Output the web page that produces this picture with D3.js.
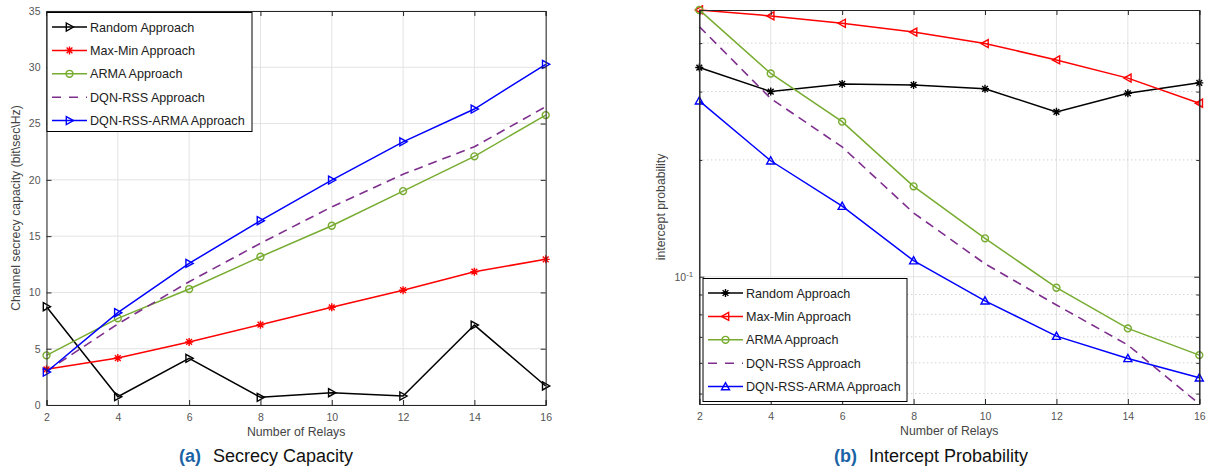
<!DOCTYPE html>
<html>
<head>
<meta charset="utf-8">
<script src="https://cdn.jsdelivr.net/npm/d3@7"></script>
<style>
  body { margin: 0; background: #fff; }
  svg { font-family: "Liberation Sans", Arial, sans-serif; }
</style>
</head>
<body>
<div id="chart"></div>
<script>
// Relay counts shared by both panels
var relays = [2, 4, 6, 8, 10, 12, 14, 16];

// (a) secrecy capacity, bit/sec/Hz
var capRandom   = [8.73, 0.74, 4.15, 0.68, 1.09, 0.80, 7.10, 1.69];
var capMaxMin   = [3.17, 4.17, 5.60, 7.13, 8.68, 10.20, 11.84, 12.94];
var capArma     = [4.41, 7.70, 10.30, 13.17, 15.92, 19.00, 22.09, 25.75];
var capDqn      = [3.00, 7.20, 10.95, 14.36, 17.60, 20.50, 22.94, 26.50];
var capDqnArma  = [2.93, 8.20, 12.58, 16.37, 19.98, 23.38, 26.29, 30.26];

// (b) intercept probability
var ipRandom    = [0.346, 0.300, 0.314, 0.312, 0.305, 0.266, 0.297, 0.316];
var ipMaxMin    = [0.487, 0.470, 0.450, 0.427, 0.399, 0.362, 0.325, 0.280];
var ipArma      = [0.487, 0.334, 0.251, 0.171, 0.1256, 0.0937, 0.0736, 0.0628];
var ipDqn       = [0.441, 0.288, 0.216, 0.146, 0.108, 0.0846, 0.0667, 0.0470];
var ipDqnArma   = [0.284, 0.199, 0.152, 0.110, 0.0867, 0.0703, 0.0616, 0.0549];

var seriesNames = ["Random Approach", "Max-Min Approach", "ARMA Approach", "DQN-RSS Approach", "DQN-RSS-ARMA Approach"];
var capTicks = [0, 5, 10, 15, 20, 25, 30, 35];
var ipMinorTicks = [0.05, 0.06, 0.07, 0.08, 0.09, 0.2, 0.3, 0.4];

var W = 1212, H = 472;
var axisColor = "#262626", tickText = "#555", gridColor = "#e3e3e3";

var svg = d3.select("#chart").append("svg").attr("width", W).attr("height", H);

// marker glyphs (MATLAB style, hollow)
function markerPath(type, s){
	var r = s/2;
	if(type === ">") return "M" + (-r*0.8) + "," + (-r) + "L" + r + ",0L" + (-r*0.8) + "," + r + "Z";
	if(type === "<") return "M" + (r*0.8) + "," + (-r) + "L" + (-r) + ",0L" + (r*0.8) + "," + r + "Z";
	if(type === "^") return "M0," + (-r) + "L" + r + "," + (r*0.8) + "L" + (-r) + "," + (r*0.8) + "Z";
	if(type === "o") return d3.symbol(d3.symbolCircle, Math.PI*r*r*0.75)();
	if(type === "*"){
		var d = r*0.72;
		return "M" + (-r) + ",0L" + r + ",0M0," + (-r) + "L0," + r +
			"M" + (-d) + "," + (-d) + "L" + d + "," + d + "M" + (-d) + "," + d + "L" + d + "," + (-d);
	}
	return null;
}

function drawMarker(g, type, color, cx, cy){
	var p = markerPath(type, 8);
	if(!p) return;
	g.append("path")
		.attr("d", p)
		.attr("transform", "translate(" + cx + "," + cy + ")")
		.style("fill", "none")
		.style("stroke", color)
		.style("stroke-width", 1.4);
}

function panel(cfg){
	var g = svg.append("g");
	var x = cfg.x, y = cfg.y;
	var x0 = x.range()[0], x1 = x.range()[1], y0 = y.range()[0], y1 = y.range()[1];

	// grid
	g.append("g").selectAll("line").data(relays).enter().append("line")
		.attr("x1", function(d){return x(d);}).attr("x2", function(d){return x(d);})
		.attr("y1", y0).attr("y2", y1)
		.style("stroke", gridColor).style("stroke-width", 1);
	g.append("g").selectAll("line").data(cfg.gridY).enter().append("line")
		.attr("x1", x0).attr("x2", x1)
		.attr("y1", function(d){return y(d);}).attr("y2", function(d){return y(d);})
		.style("stroke", gridColor).style("stroke-width", 1);
	if(cfg.minorY){
		g.append("g").selectAll("line").data(cfg.minorY).enter().append("line")
			.attr("x1", x0).attr("x2", x1)
			.attr("y1", function(d){return y(d);}).attr("y2", function(d){return y(d);})
			.style("stroke", "#bdbdbd").style("stroke-width", 1)
			.style("stroke-dasharray", "1,3");
	}

	// series
	var line = d3.line().x(function(d){return x(d[0]);}).y(function(d){return y(d[1]);});
	cfg.series.forEach(function(s){
		var pts = relays.map(function(r, i){return [r, s.values[i]];});
		g.append("path")
			.attr("d", line(pts))
			.style("fill", "none")
			.style("stroke", s.color)
			.style("stroke-width", s.dash ? 1.6 : 1.5)
			.style("stroke-dasharray", s.dash ? "9,6" : null);
		pts.forEach(function(p){ drawMarker(g, s.marker, s.color, x(p[0]), y(p[1])); });
	});

	// axes, ticks inside
	g.append("g").attr("transform", "translate(0," + y0 + ")")
		.call(d3.axisBottom(x).tickValues(relays).tickSize(-5).tickPadding(9));
	g.append("g").attr("transform", "translate(0," + y1 + ")")
		.call(d3.axisTop(x).tickValues(relays).tickSize(-5).tickFormat(""));
	var left = g.append("g").attr("transform", "translate(" + x0 + ",0)")
		.call(d3.axisLeft(y).tickValues(cfg.ticksY).tickSize(-5).tickPadding(6).tickFormat(cfg.fmtY));
	g.append("g").attr("transform", "translate(" + x1 + ",0)")
		.call(d3.axisRight(y).tickValues(cfg.ticksY).tickSize(-5).tickFormat(""));
	if(cfg.minorY){
		g.append("g").attr("transform", "translate(" + x0 + ",0)")
			.call(d3.axisLeft(y).tickValues(cfg.minorY).tickSize(-3).tickFormat(""));
		g.append("g").attr("transform", "translate(" + x1 + ",0)")
			.call(d3.axisRight(y).tickValues(cfg.minorY).tickSize(-3).tickFormat(""));
	}
	g.selectAll(".domain").style("stroke", axisColor).style("stroke-width", 1);
	g.selectAll(".tick line").style("stroke", axisColor);
	g.selectAll(".tick text").style("fill", tickText).style("font-size", "10.5px")
		.style("font-family", "\"Liberation Sans\", Arial, sans-serif");

	if(cfg.logLabel){
		left.selectAll(".tick text").text(null)
			.append("tspan").text("10")
			.append("tspan").attr("dy", "-0.5em").style("font-size", "8px").text("-1");
	}

	// axis titles
	g.append("text")
		.attr("x", (x0 + x1)/2).attr("y", y0 + 31)
		.attr("text-anchor", "middle")
		.style("font-size", "12.3px").style("fill", "#444")
		.text("Number of Relays");
	g.append("text")
		.attr("transform", "translate(" + cfg.yLabelX + "," + ((y0 + y1)/2) + ") rotate(-90)")
		.attr("text-anchor", "middle")
		.style("font-size", "12.3px").style("fill", "#444")
		.text(cfg.yLabel);

	// legend
	var lg = g.append("g").attr("transform", "translate(" + cfg.legend.x + "," + cfg.legend.y + ")");
	lg.append("rect")
		.attr("width", cfg.legend.w).attr("height", cfg.legend.h)
		.style("fill", "#fff").style("stroke", "#000").style("stroke-width", 1);
	cfg.series.forEach(function(s, i){
		var ly = 14.5 + i*23.4;
		lg.append("line")
			.attr("x1", 5).attr("x2", 40).attr("y1", ly).attr("y2", ly)
			.style("stroke", s.color).style("stroke-width", 1.5)
			.style("stroke-dasharray", s.dash ? "9,8" : null);
		drawMarker(lg, s.marker, s.color, 22.5, ly);
		lg.append("text")
			.attr("x", 43).attr("y", ly + 4.5)
			.style("font-size", "12.6px").style("fill", "#222")
			.text(seriesNames[i]);
	});

	// caption
	var cap = g.append("text")
		.attr("x", cfg.caption.x).attr("y", 462)
		.style("font-size", "18px");
	cap.append("tspan").style("font-weight", "bold").style("fill", "#1b63a5").text(cfg.caption.tag);
	cap.append("tspan").attr("dx", 12).style("fill", "#111").text(cfg.caption.text);
}

var colors = {black: "#000000", red: "#ff0000", green: "#77ac30", purple: "#7e2f8e", blue: "#0000ff"};

panel({
	x: d3.scaleLinear().domain([2, 16]).range([46.5, 545.7]),
	y: d3.scaleLinear().domain([0, 35]).range([405, 11]),
	ticksY: capTicks,
	gridY: capTicks,
	fmtY: d3.format("d"),
	yLabel: "Channel secrecy capacity (bit\\sec\\Hz)",
	yLabelX: 20,
	legend: {x: 47, y: 12.5, w: 205, h: 119},
	caption: {x: 179, tag: "(a)", text: "Secrecy Capacity"},
	series: [
		{values: capRandom, color: colors.black, marker: ">"},
		{values: capMaxMin, color: colors.red, marker: "*"},
		{values: capArma, color: colors.green, marker: "o"},
		{values: capDqn, color: colors.purple, marker: null, dash: true},
		{values: capDqnArma, color: colors.blue, marker: ">"}
	]
});

panel({
	x: d3.scaleLinear().domain([2, 16]).range([699.3, 1199.3]),
	y: d3.scaleLog().domain([0.047, 0.4868]).range([404, 10]),
	ticksY: [0.1],
	gridY: [0.1],
	minorY: ipMinorTicks,
	fmtY: function(){return "";},
	logLabel: true,
	yLabel: "intercept probability",
	yLabelX: 665,
	legend: {x: 703, y: 278.5, w: 204, h: 123},
	caption: {x: 834, tag: "(b)", text: "Intercept Probability"},
	series: [
		{values: ipRandom, color: colors.black, marker: "*"},
		{values: ipMaxMin, color: colors.red, marker: "<"},
		{values: ipArma, color: colors.green, marker: "o"},
		{values: ipDqn, color: colors.purple, marker: null, dash: true},
		{values: ipDqnArma, color: colors.blue, marker: "^"}
	]
});
</script>
</body>
</html>
